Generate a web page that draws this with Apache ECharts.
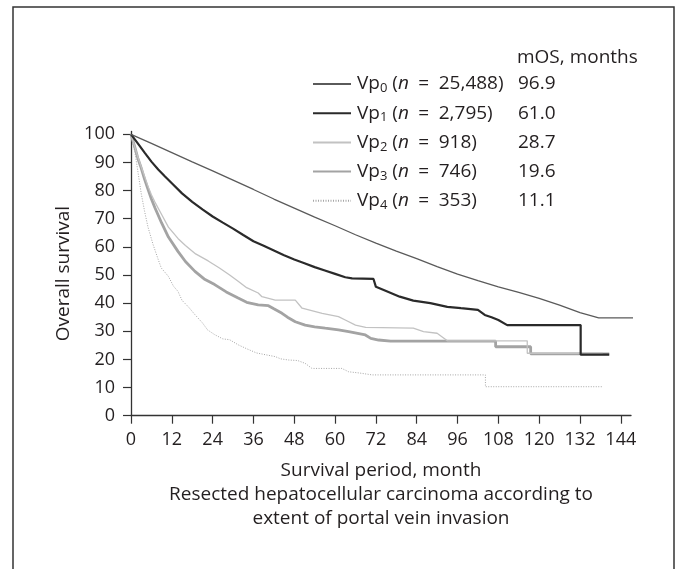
<!DOCTYPE html>
<html>
<head>
<meta charset="utf-8">
<script src="https://cdn.jsdelivr.net/npm/echarts@6/dist/echarts.min.js"></script>
<style>
  html, body { margin: 0; padding: 0; background: #fff; }
  #chart { width: 681px; height: 569px; }
</style>
</head>
<body>
<div id="chart"></div>
<script>
// Kaplan–Meier overall survival (%) by portal vein invasion grade, [month, survival]
const groupNames = ['Vp0', 'Vp1', 'Vp2', 'Vp3', 'Vp4'];
const groupSub = ['0', '1', '2', '3', '4'];
const groupN = ['25,488', '2,795', '918', '746', '353'];
const medianOS = [96.9, 61.0, 28.7, 19.6, 11.1];

const vp0 = [[0,100],[6,96.8],[12,93.5],[18,90.2],[24,87],[30,83.7],[36,80.4],[42,77],[48,73.8],
  [54,70.6],[60,67.5],[66,64.3],[72,61.3],[78,58.5],[84,55.8],[90,53],[96,50.3],[102,48],
  [108,45.8],[114,43.8],[120,41.7],[126,39.3],[132,36.6],[137.5,34.8],[148,34.8]];

const vp1 = [[0,100],[2,96.8],[4,93.5],[6,90.3],[8,87.5],[10,85],[12,82.6],[15,79],[18,76],[21,73.3],
  [24,70.8],[27,68.6],[30,66.5],[33,64.2],[36,62],[39,60.4],[42,58.7],[45,57],[48,55.5],
  [51,54.2],[54,52.8],[57,51.6],[60,50.4],[63,49.2],[65,48.8],[71.3,48.6],[72,45.8],[75,44.3],
  [79,42.3],[83,40.9],[88,40],[93,38.7],[97,38.2],[102,37.6],[104,35.8],[106,35],[108,34],
  [110.6,32.2],[132.2,32.2],[132.2,21.7],[140.6,21.7]];

const vp2 = [[0,100],[1,96],[2,92],[3,88.5],[4,85],[5,81.5],[6,78.5],[7,76],[9,71.5],[11,67],
  [13.8,63],[16,60.5],[19,57.5],[22.7,55],[26,52.5],[29,50],[31.5,47.8],[34,45.5],[37.4,43.6],
  [38.5,42.3],[42.4,41.1],[48.3,41.1],[50.3,38.2],[56.2,36.4],[61,35.2],[63,34],[66,32.2],
  [69,31.4],[83,31.1],[86,29.9],[90,29.3],[92,27.5],[93,26.6],[116.5,26.6],[116.5,22.2],
  [138.7,22.2]];

const vp3 = [[0,100],[1,96],[2,91.5],[3,88],[4,84],[5,80.5],[6,77],[7,74],[9,68.5],[11,63.5],
  [13.8,58.4],[16,54.8],[18.8,51.3],[21.5,48.6],[24.6,46.6],[28,44],[31.5,41.8],[34,40.3],
  [37.4,39.4],[40.4,39.1],[42,38],[44.4,36.4],[46,35],[48.3,33.4],[51.2,32.2],[54,31.6],
  [57.1,31.1],[61,30.5],[64,29.9],[68.9,28.7],[70.5,27.5],[72.8,26.9],[76.3,26.5],
  [107.2,26.5],[107.2,24.5],[117.5,24.5],[117.5,22],[140.6,22]];

const vp4 = [[0,100],[0.5,97],[1.1,94],[2,87],[3,79],[4,72.6],[5,67],[6.5,60.8],[8,55.5],
  [8.9,52.5],[11,49.5],[12.5,46],[13.8,44.2],[15,41],[17,38.5],[18.8,35.9],[21,33],[22.5,30.5],
  [24.6,28.8],[27,27.3],[29,27],[31.5,25.2],[34,23.8],[36.9,22.3],[39,21.8],[42.4,21],[44,20.2],
  [46.3,19.8],[49,19.6],[51.2,18.6],[53.2,16.8],[62,16.8],[64,15.6],[67,15.2],[70.9,14.5],
  [104.2,14.5],[104.2,10.3],[138.8,10.3]];

const xTicks = [0, 12, 24, 36, 48, 60, 72, 84, 96, 108, 120, 132, 144];
const yTicks = [0, 10, 20, 30, 40, 50, 60, 70, 80, 90, 100];

const curves = [vp0, vp1, vp2, vp3, vp4];
const lineStyles = [
  { color: '#5a5a5a', width: 1.3, type: 'solid' },
  { color: '#2a2a2a', width: 2.2, type: 'solid' },
  { color: '#c2c2c2', width: 1.3, type: 'solid' },
  { color: '#a3a3a3', width: 2.8, type: 'solid' },
  { color: '#a6a6a6', width: 1, type: [1, 1.5] }
];

const FONT = '"Open Sans", "Noto Sans", sans-serif';
const TXT = '#231f20';
const EN = '\u2002';

const chart = echarts.init(document.getElementById('chart'), null, { renderer: 'canvas' });

const series = curves.map((d, i) => ({
  name: groupNames[i],
  type: 'line',
  data: d,
  symbol: 'none',
  clip: false,
  silent: true,
  z: 10 - i,
  itemStyle: { color: lineStyles[i].color },
  lineStyle: lineStyles[i]
}));

const mosLabels = medianOS.map((v, i) => ({
  type: 'text',
  x: 518,
  y: 73 + i * 29.2,
  style: { text: v.toFixed(1), font: '19px ' + FONT, fill: TXT, lineHeight: 22 }
}));

const option = {
  backgroundColor: '#fff',
  animation: false,
  textStyle: { fontFamily: FONT, color: TXT },
  grid: { left: 131, right: 50, top: 131.5, bottom: 153.3 },
  xAxis: {
    type: 'value', min: 0, max: 147, interval: 12,
    name: 'Survival period, month\nResected hepatocellular carcinoma according to\nextent of portal vein invasion',
    nameLocation: 'middle', nameGap: 43,
    nameTextStyle: { fontSize: 19, color: TXT, lineHeight: 23.8, align: 'center', verticalAlign: 'top' },
    axisLine: { show: true, lineStyle: { color: '#333', width: 1.3 } },
    axisTick: { show: true, length: 8, lineStyle: { color: '#333', width: 1.2 }, customValues: xTicks },
    axisLabel: { fontSize: 18, color: TXT, margin: 15, customValues: xTicks },
    splitLine: { show: false }
  },
  yAxis: {
    type: 'value', min: 0, max: 101, interval: 10,
    name: 'Overall survival',
    nameLocation: 'middle', nameGap: 56,
    nameTextStyle: { fontSize: 19, color: TXT },
    axisLine: { show: true, lineStyle: { color: '#333', width: 1.3 } },
    axisTick: { show: true, length: 8, lineStyle: { color: '#333', width: 1.2 }, customValues: yTicks },
    axisLabel: { fontSize: 18, color: TXT, margin: 16, customValues: yTicks },
    splitLine: { show: false }
  },
  legend: {
    orient: 'vertical',
    left: 312, top: 73,
    padding: 0,
    itemWidth: 38, itemHeight: 14, itemGap: 7.2,
    selectedMode: false,
    itemStyle: { opacity: 0 },
    data: groupNames,
    formatter: name => {
      const i = groupNames.indexOf(name);
      return '{a|Vp}{s|' + groupSub[i] + '}{a| (}{i|n}{a|' + EN + '=' + EN + groupN[i] + ')}';
    },
    textStyle: {
      fontFamily: FONT, color: TXT, fontSize: 19, lineHeight: 22, padding: [0, 0, 0, 1],
      rich: {
        a: { fontSize: 19, lineHeight: 22, color: TXT, fontFamily: FONT },
        s: { fontSize: 13, lineHeight: 9, verticalAlign: 'bottom', color: TXT, fontFamily: FONT },
        i: { fontSize: 19, lineHeight: 22, fontStyle: 'italic', color: TXT, fontFamily: FONT }
      }
    }
  },
  graphic: [
    {
      type: 'rect', silent: true,
      shape: { x: 13, y: 7, width: 661, height: 580 },
      style: { fill: 'none', stroke: '#333', lineWidth: 1.5 }
    },
    {
      type: 'text', x: 517, y: 47,
      style: { text: 'mOS, months', font: '19px ' + FONT, fill: TXT, lineHeight: 22 }
    }
  ].concat(mosLabels),
  series: series
};

chart.setOption(option);
</script>
</body>
</html>
